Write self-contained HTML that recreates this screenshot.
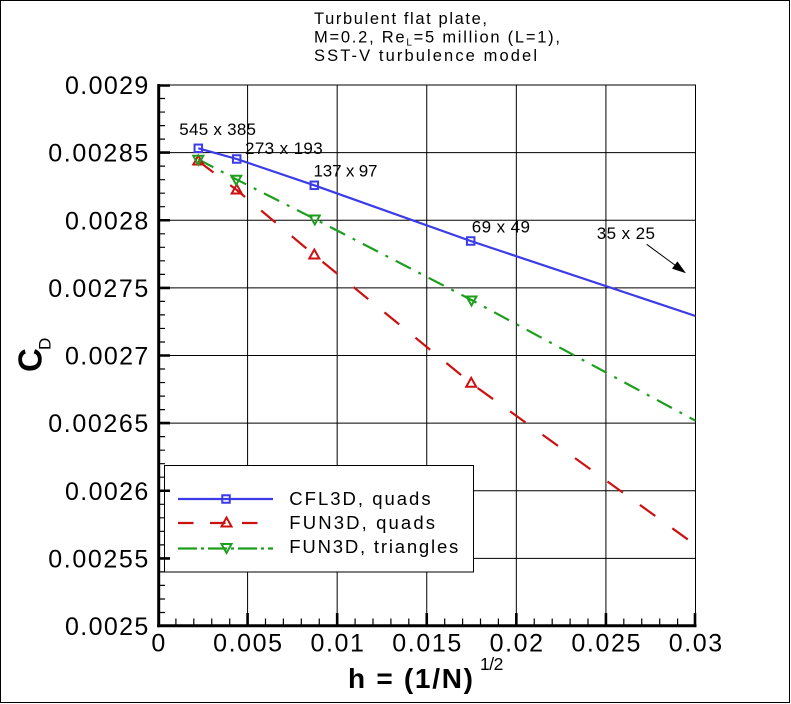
<!DOCTYPE html>
<html><head><meta charset="utf-8"><style>
html,body{margin:0;padding:0;background:#fff;}
svg{display:block;font-family:"Liberation Sans",Arial,Helvetica,sans-serif;}
</style></head><body>
<svg width="791" height="704" viewBox="0 0 791 704" xmlns="http://www.w3.org/2000/svg">
<rect x="0" y="0" width="791" height="704" fill="#fff"/>
<rect x="0.5" y="0.5" width="789" height="702" fill="none" stroke="#000" stroke-width="1"/>
<defs><clipPath id="pc"><rect x="158" y="85" width="537.5" height="541"/></clipPath></defs>

<!-- grid -->
<g stroke="#000" stroke-width="1" fill="none">
<path d="M247.58 85V626M337.17 85V626M426.75 85V626M516.33 85V626M605.92 85V626"/>
<path d="M158 558.4H695.5M158 490.75H695.5M158 423.1H695.5M158 355.5H695.5M158 287.9H695.5M158 220.25H695.5M158 152.6H695.5"/>
<path d="M158 85H695.5V626"/>
</g>

<!-- title -->
<g font-size="16.5" fill="#000">
<text x="314" y="24" textLength="173" lengthAdjust="spacing">Turbulent flat plate,</text>
<text x="314" y="42.5" textLength="246" lengthAdjust="spacing">M=0.2, Re<tspan font-size="10" dy="3">L</tspan><tspan dy="-3">=5 million (L=1),</tspan></text>
<text x="314" y="61" textLength="223" lengthAdjust="spacing">SST-V turbulence model</text>
</g>

<!-- data lines -->
<g clip-path="url(#pc)" fill="none" stroke-width="2.2" stroke-linejoin="round">
<polyline stroke="#3b3be8" points="198.3,148.3 236.7,159 314.3,185.3 470.7,241 695.5,316"/>
<polyline stroke="#cc1111" stroke-dasharray="19 21" points="198.3,161 236.7,190 314.3,255 471.2,383.3 695.5,545"/>
<polyline stroke="#1e9e1e" stroke-dasharray="17 8.5 3 8.5" points="198.3,159.3 236.2,179.3 314.8,219 471.5,300 695.5,420.7"/>
</g>

<!-- markers -->
<g fill="none" stroke-width="2">
<g stroke="#cc1111">
<polygon points="198.3,155.5 203.3,164.5 193.3,164.5"/>
<polygon points="236.7,184.5 241.7,193.5 231.7,193.5"/>
<polygon points="314.3,249.5 319.3,258.5 309.3,258.5"/>
<polygon points="471.2,377.8 476.2,386.8 466.2,386.8"/>
</g>
<g stroke="#1e9e1e">
<polygon points="193.3,155.8 203.3,155.8 198.3,164.8"/>
<polygon points="231.2,175.8 241.2,175.8 236.2,184.8"/>
<polygon points="309.8,215.5 319.8,215.5 314.8,224.5"/>
<polygon points="466.5,296.5 476.5,296.5 471.5,305.5"/>
</g>
<g stroke="#3b3be8">
<rect x="194.55" y="144.55" width="7.5" height="7.5"/>
<rect x="232.95" y="155.25" width="7.5" height="7.5"/>
<rect x="310.55" y="181.55" width="7.5" height="7.5"/>
<rect x="466.95" y="237.25" width="7.5" height="7.5"/>
</g>
</g>

<!-- data labels -->
<g font-size="17" fill="#000">
<text x="179.3" y="135" textLength="76.7" lengthAdjust="spacing">545 x 385</text>
<text x="245" y="154" textLength="77.7" lengthAdjust="spacing">273 x 193</text>
<text x="313.5" y="176.7" textLength="64" lengthAdjust="spacing">137 x 97</text>
<text x="471.7" y="232.7" textLength="58.3" lengthAdjust="spacing">69 x 49</text>
<text x="596.7" y="239" textLength="58.3" lengthAdjust="spacing">35 x 25</text>
</g>
<line x1="646.7" y1="244.3" x2="676" y2="265.9" stroke="#000" stroke-width="1"/>
<polygon points="686,273.3 672,268.6 677.4,261.4" fill="#000"/>

<!-- legend -->
<rect x="164.5" y="465.5" width="309" height="106.5" fill="#fff" stroke="#000" stroke-width="1"/>
<g fill="none" stroke-width="2.2">
<line x1="178" y1="499" x2="273" y2="499" stroke="#3b3be8"/>
<line x1="178" y1="523" x2="273" y2="523" stroke="#cc1111" stroke-dasharray="15.5 16.5"/>
<line x1="178" y1="548.5" x2="273" y2="548.5" stroke="#1e9e1e" stroke-dasharray="19 4 3 4"/>
</g>
<g fill="none" stroke-width="2">
<rect x="222.25" y="495.25" width="7.5" height="7.5" stroke="#3b3be8"/>
<polygon points="226.5,517.5 231.5,526.5 221.5,526.5" stroke="#cc1111"/>
<polygon points="221.5,544 231.5,544 226.5,553" stroke="#1e9e1e"/>
</g>
<g font-size="18.5" fill="#000">
<text x="289.3" y="505" textLength="141.3" lengthAdjust="spacing">CFL3D, quads</text>
<text x="289.3" y="529" textLength="145.7" lengthAdjust="spacing">FUN3D, quads</text>
<text x="289.3" y="553" textLength="169" lengthAdjust="spacing">FUN3D, triangles</text>
</g>

<!-- axes -->
<g stroke="#000" fill="none">
<path d="M158.7 84V627.2" stroke-width="3"/>
<path d="M157.2 625.7H696.5" stroke-width="3"/>
<path stroke-width="2.6" d="M158 558.4H170M158 490.75H170M158 423.1H170M158 355.5H170M158 287.9H170M158 220.25H170M158 152.6H170M158 85.5H170"/>
<path stroke-width="1.2" d="M158 612.5H165M158 599H165M158 585.4H165M158 571.9H165M158 544.85H165M158 531.3H165M158 517.8H165M158 504.3H165M158 477.2H165M158 463.7H165M158 450.2H165M158 436.65H165M158 409.6H165M158 396.1H165M158 382.55H165M158 369H165M158 342H165M158 328.45H165M158 314.9H165M158 301.4H165M158 274.35H165M158 260.8H165M158 247.3H165M158 233.8H165M158 206.7H165M158 193.2H165M158 179.7H165M158 166.15H165M158 139.1H165M158 125.6H165M158 112.05H165M158 98.5H165"/>
<path stroke-width="2.6" d="M247.58 626V613M337.17 626V613M426.75 626V613M516.33 626V613M605.92 626V613M695 626V613"/>
<path stroke-width="1.2" d="M175.9 626V618.5M193.8 626V618.5M211.75 626V618.5M229.7 626V618.5M265.5 626V618.5M283.4 626V618.5M301.3 626V618.5M319.25 626V618.5M355.1 626V618.5M373 626V618.5M390.9 626V618.5M408.8 626V618.5M444.7 626V618.5M462.6 626V618.5M480.5 626V618.5M498.4 626V618.5M534.25 626V618.5M552.2 626V618.5M570.1 626V618.5M588 626V618.5M623.8 626V618.5M641.75 626V618.5M659.7 626V618.5M677.6 626V618.5"/>
</g>

<!-- y tick labels -->
<g font-size="25" fill="#000" text-anchor="end">
<text x="148.3" y="635" textLength="83.3" lengthAdjust="spacing">0.0025</text>
<text x="148.3" y="567.4" textLength="100" lengthAdjust="spacing">0.00255</text>
<text x="148.3" y="499.75" textLength="83.3" lengthAdjust="spacing">0.0026</text>
<text x="148.3" y="432.1" textLength="100" lengthAdjust="spacing">0.00265</text>
<text x="148.3" y="364.5" textLength="83.3" lengthAdjust="spacing">0.0027</text>
<text x="148.3" y="296.9" textLength="100" lengthAdjust="spacing">0.00275</text>
<text x="148.3" y="229.25" textLength="83.3" lengthAdjust="spacing">0.0028</text>
<text x="148.3" y="161.6" textLength="100" lengthAdjust="spacing">0.00285</text>
<text x="148.3" y="94" textLength="83.3" lengthAdjust="spacing">0.0029</text>
</g>

<!-- x tick labels -->
<g font-size="25" fill="#000" text-anchor="middle">
<text x="158.3" y="651.7">0</text>
<text x="247.58" y="651.7" textLength="69" lengthAdjust="spacing">0.005</text>
<text x="337.17" y="651.7" textLength="53.4" lengthAdjust="spacing">0.01</text>
<text x="426.75" y="651.7" textLength="69" lengthAdjust="spacing">0.015</text>
<text x="516.33" y="651.7" textLength="53.4" lengthAdjust="spacing">0.02</text>
<text x="605.92" y="651.7" textLength="69" lengthAdjust="spacing">0.025</text>
<text x="695.5" y="651.7" textLength="53.4" lengthAdjust="spacing">0.03</text>
</g>

<!-- axis titles -->
<text x="348" y="688" font-size="28" font-weight="bold" textLength="125" lengthAdjust="spacing">h = (1/N)</text>
<text x="480" y="670" font-size="17.5" textLength="23.3" lengthAdjust="spacing">1/2</text>
<text transform="translate(41.7,372) rotate(-90)" font-size="33" font-weight="bold">C</text>
<text transform="translate(50.7,350) rotate(-90)" font-size="17">D</text>
</svg>
</body></html>
